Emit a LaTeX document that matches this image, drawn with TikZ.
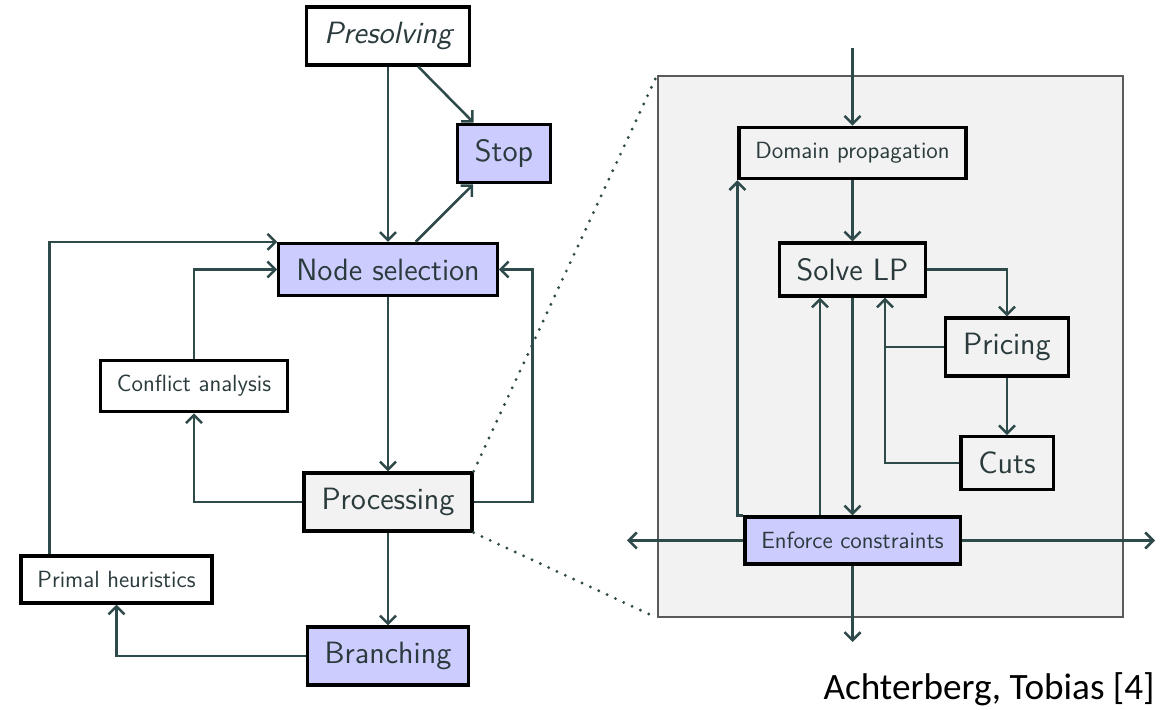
\documentclass[tikz,border=0pt]{standalone}
\usepackage{fontspec}
\newfontfamily\creditfont{Carlito}
\usetikzlibrary{arrows.meta}
\definecolor{linegray}{HTML}{2F4A4A}
\definecolor{textslate}{HTML}{2B3B3D}
\definecolor{boxblue}{HTML}{CCCCFF}
\definecolor{boxgray}{HTML}{F2F2F2}
\definecolor{framegray}{HTML}{5A5A5A}

\begin{document}
\begin{tikzpicture}[x=0.5pt,y=-0.5pt,
  box/.style={draw=black,line width=1.6pt,text=textslate,inner xsep=8.75pt,inner ysep=7.6pt,
    font=\sffamily\fontsize{15.4}{18}\selectfont},
  smallbox/.style={box,inner xsep=8.2pt,font=\sffamily\fontsize{11.7}{14}\selectfont},
  flow/.style={draw=linegray,line width=1.25pt,-{Straight Barb[length=4pt,width=8pt]}},
  link/.style={draw=linegray,line width=1.25pt},
  zoomline/.style={draw=linegray,line width=1.6pt,line cap=round,dash pattern=on 0pt off 4.6pt}]
\useasboundingbox (0,0) rectangle (1169,710);

% main loop:
\path (388,36) node[box] (pre) {\itshape Presolving};
\path (504,153.5) node[box,fill=boxblue] (stop) {Stop};
\path (388,269.5) node[box,fill=boxblue] (nodesel) {Node selection};
\path (194,386) node[smallbox] (conflict) {Conflict analysis};
\path (388,502) node[box,fill=boxgray] (proc) {Processing};
\path (116.5,579.5) node[smallbox] (primal) {Primal heuristics};
\path (388,656) node[box,fill=boxblue] (branch) {Branching};

\draw[flow] (pre) -- (nodesel);
\draw[flow] (pre) -- (stop);
\draw[flow] (nodesel) -- (stop);
\draw[flow] (nodesel) -- (proc);
\draw[flow] (proc) -- (branch);
\draw[flow] (proc.west) -| (conflict.south);
\draw[flow] (conflict.north) |- (nodesel.west);
\draw[flow] (proc.east) -- ++(59,0) |- (nodesel.east);
\draw[flow] (branch.west) -| (primal.south);
\draw[flow] ([xshift=15pt]primal.north west) |- (nodesel.north west);

% zoomed processing step:
\path (890.5,346.5) node[draw=framegray,fill=boxgray,line width=0.9pt,inner sep=0pt,
  minimum width=232.5pt,minimum height=270.5pt] (frame) {};
\draw[zoomline] (proc.north east) -- (frame.north west);
\draw[zoomline] (proc.south east) -- (frame.south west);

\path (852.5,153) node[smallbox,fill=boxgray] (domprop) {Domain propagation};
\path (852.5,269.5) node[box,fill=boxgray] (solvelp) {Solve LP};
\path (1007,347) node[box,fill=boxgray] (pricing) {Pricing};
\path (1007,463) node[box,fill=boxgray] (cuts) {Cuts};
\path (852.5,540.5) node[smallbox,fill=boxblue] (enforce) {Enforce constraints};
\coordinate (entry) at (852.5,48);
\coordinate (exitL) at (627,540.5);
\coordinate (exitR) at (1155,540.5);
\coordinate (exitB) at (852.5,642);
\coordinate (lpin) at ([xshift=16.25pt]solvelp.south);

\draw[flow] (entry) -- (domprop);
\draw[flow] (domprop) -- (solvelp);
\draw[flow] (solvelp.east) -| (pricing.north);
\draw[flow] (pricing) -- (cuts);
\draw[link] (pricing.west) -- (pricing.west -| lpin);
\draw[flow] (cuts.west) -| (lpin);
\draw[flow] (solvelp) -- (enforce);
\draw[flow] ([xshift=-16.25pt]enforce.north) -- ([xshift=-16.25pt]solvelp.south);
\draw[flow] (enforce.north west) -| (domprop.south west);
\draw[flow] (enforce.west) -- (exitL);
\draw[flow] (enforce.east) -- (exitR);
\draw[flow] (enforce) -- (exitB);

\path (1155,700) node[anchor=base east,inner sep=0pt,font=\creditfont\fontsize{18.6}{22}\selectfont] (credit) {Achterberg, Tobias [4]};
\end{tikzpicture}
\end{document}
